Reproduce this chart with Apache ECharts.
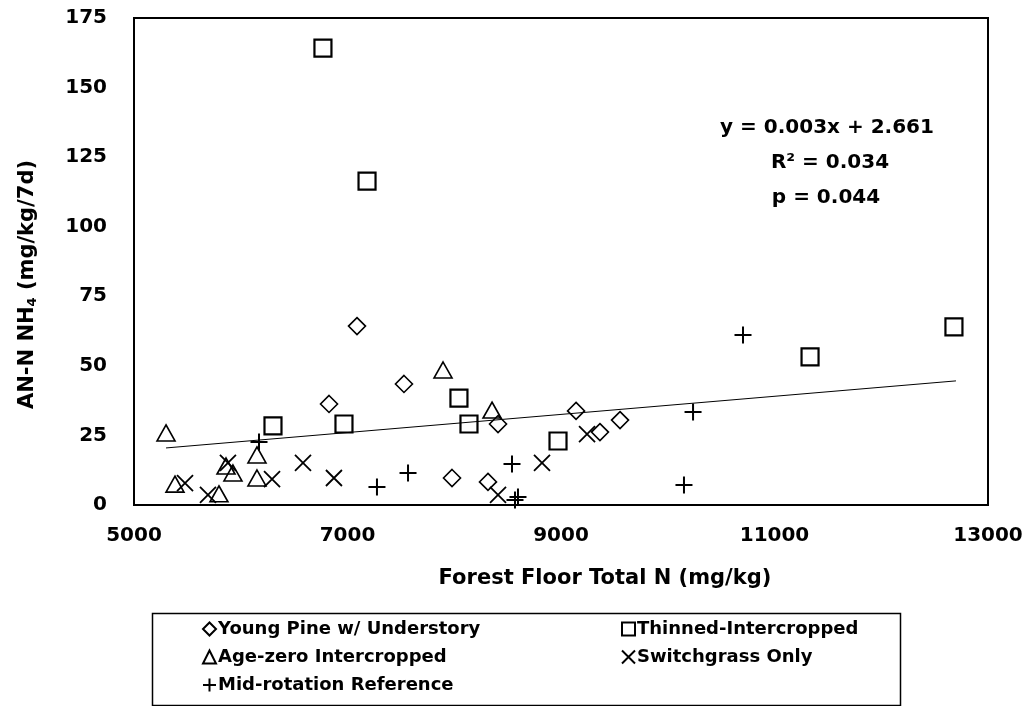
<!DOCTYPE html>
<html>
<head>
<meta charset="utf-8">
<script src="https://cdn.jsdelivr.net/npm/echarts@6/dist/echarts.min.js"></script>
<style>
html,body{margin:0;padding:0;background:#fff;}
#chart{width:1031px;height:706px;}
</style>
</head>
<body>
<div id="chart"></div>
<script>
// ---- data ----
const seriesNames = ['Young Pine w/ Understory', 'Thinned-Intercropped', 'Age-zero Intercropped', 'Switchgrass Only', 'Mid-rotation Reference'];

const youngPineX = [6827, 7089, 7529, 7979, 8316, 8410, 9141, 9365, 9553];
const youngPineY = [36.3, 64.3, 43.5, 9.7, 8.3, 29.1, 33.8, 26.2, 30.5];

const thinnedX = [6302, 6770, 6967, 7183, 8044, 8138, 8972, 11333, 12681];
const thinnedY = [28.4, 164.2, 29.1, 116.4, 38.4, 29.1, 23.0, 53.2, 64.0];

const ageZeroX = [5300, 5384, 5796, 5862, 5927, 6152, 6152, 7895, 8354];
const ageZeroY = [25.9, 7.5, 4.0, 14.0, 11.5, 18.0, 9.7, 48.5, 34.1];

const switchX = [5478, 5693, 5880, 6293, 6583, 6873, 8410, 8822, 9244];
const switchY = [7.9, 3.6, 15.1, 9.3, 15.1, 9.7, 3.6, 15.1, 25.5];

const midRotX = [6171, 7276, 7567, 8541, 8569, 8597, 10152, 10237, 10705];
const midRotY = [22.6, 6.5, 11.5, 14.7, 1.8, 2.9, 7.2, 33.4, 61.1];

const trendX = [5300, 12700];
const trendY = [20.5, 44.6];

const equationLines = ['y = 0.003x + 2.661', 'R\u00B2 = 0.034', 'p = 0.044'];

const xMin = 5000, xMax = 13000, xStep = 2000;
const yMin = 0, yMax = 175, yStep = 25;

// ---- build ----
const FONT = '"DejaVu Sans", sans-serif';
const zip = (xs, ys) => xs.map((x, i) => [x, ys[i]]);

function scatter(name, xs, ys, symbol, size, bw) {
  return {
    name: name,
    type: 'scatter',
    data: zip(xs, ys),
    symbol: symbol,
    symbolSize: size,
    itemStyle: { color: 'rgba(0,0,0,0)', borderColor: '#000', borderWidth: bw, opacity: 1 },
    emphasis: { disabled: true },
    z: 3
  };
}

const chart = echarts.init(document.getElementById('chart'), null, { renderer: 'canvas' });

const option = {
  animation: false,
  backgroundColor: '#fff',
  grid: { left: 134, top: 18, right: 43, bottom: 201, show: true, borderColor: '#000', borderWidth: 2, backgroundColor: 'transparent' },
  xAxis: {
    type: 'value', min: xMin, max: xMax, interval: xStep,
    axisLine: { show: true, lineStyle: { color: '#000', width: 2 } },
    axisTick: { show: false },
    splitLine: { show: false },
    axisLabel: { color: '#000', fontFamily: FONT, fontWeight: 'bold', fontSize: 20, margin: 21, formatter: v => String(v) },
    name: 'Forest Floor Total N (mg/kg)',
    nameLocation: 'middle',
    nameGap: 63,
    nameTextStyle: { color: '#000', fontFamily: FONT, fontWeight: 'bold', fontSize: 21, padding: [0, 0, 0, 88] }
  },
  yAxis: {
    type: 'value', min: yMin, max: yMax, interval: yStep,
    axisLine: { show: true, lineStyle: { color: '#000', width: 2 } },
    axisTick: { show: false },
    splitLine: { show: false },
    axisLabel: { color: '#000', fontFamily: FONT, fontWeight: 'bold', fontSize: 20, margin: 27, formatter: v => String(v) },
    name: '{a|AN-N NH}{s|4}{a| (mg/kg/7d)}',
    nameLocation: 'middle',
    nameRotate: 90,
    nameGap: 95,
    nameTextStyle: {
      padding: [0, 46, 0, 0],
      rich: {
        a: { color: '#000', fontFamily: FONT, fontWeight: 'bold', fontSize: 21 },
        s: { color: '#000', fontFamily: FONT, fontWeight: 'bold', fontSize: 13, padding: [10, 0, 0, 0] }
      }
    }
  },
  legend: [
    {
      data: [seriesNames[0], seriesNames[2], seriesNames[4]],
      orient: 'vertical', left: 202, top: 619, padding: 0,
      itemWidth: 13, itemHeight: 13, itemGap: 8,
      textStyle: { color: '#000', fontFamily: FONT, fontWeight: 'bold', fontSize: 18, lineHeight: 20, padding: [0, 0, 0, -3] },
      selectedMode: false
    },
    {
      data: [seriesNames[1], seriesNames[3]],
      orient: 'vertical', left: 621, top: 619, padding: 0,
      itemWidth: 13, itemHeight: 13, itemGap: 8,
      textStyle: { color: '#000', fontFamily: FONT, fontWeight: 'bold', fontSize: 18, lineHeight: 20, padding: [0, 0, 0, -3] },
      selectedMode: false
    }
  ],
  graphic: [
    { type: 'rect', left: 150, top: 611, z: 10, silent: true,
      shape: { width: 748, height: 92 },
      style: { fill: 'none', stroke: '#000', lineWidth: 1.5 } },
    { type: 'text', x: 827, y: 128, z: 10, silent: true,
      style: { text: equationLines[0], font: 'bold 20px ' + FONT, fill: '#000', align: 'center', verticalAlign: 'middle' } },
    { type: 'text', x: 830, y: 163, z: 10, silent: true,
      style: { text: equationLines[1], font: 'bold 20px ' + FONT, fill: '#000', align: 'center', verticalAlign: 'middle' } },
    { type: 'text', x: 826, y: 198, z: 10, silent: true,
      style: { text: equationLines[2], font: 'bold 20px ' + FONT, fill: '#000', align: 'center', verticalAlign: 'middle' } }
  ],
  series: [
    scatter(seriesNames[0], youngPineX, youngPineY, 'diamond', [17, 17], 1.6),
    scatter(seriesNames[1], thinnedX, thinnedY, 'rect', 17, 2.2),
    scatter(seriesNames[2], ageZeroX, ageZeroY, 'triangle', [18, 16], 1.6),
    scatter(seriesNames[3], switchX, switchY, 'path://M0,0L10,10M10,0L0,10', 16, 1.8),
    scatter(seriesNames[4], midRotX, midRotY, 'path://M5,0L5,10M0,5L10,5', 17, 2),
    {
      name: 'trend', type: 'line', data: zip(trendX, trendY),
      symbol: 'none', lineStyle: { color: '#000', width: 1 }, silent: true, z: 2
    }
  ]
};
chart.setOption(option);
</script>
</body>
</html>
